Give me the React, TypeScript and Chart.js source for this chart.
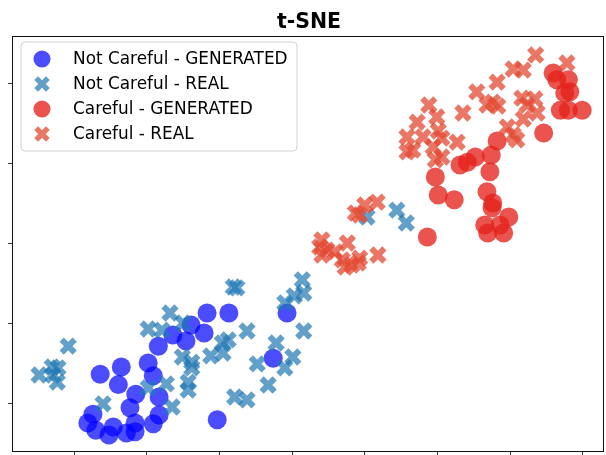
import React, { useEffect, useRef } from "react";
import { Chart, registerables } from "chart.js";

Chart.register(...registerables);

const TITLE = "t-SNE";
const LABELS = [
  "Not Careful - GENERATED",
  "Not Careful - REAL",
  "Careful - GENERATED",
  "Careful - REAL",
];
const COLORS = [
  "rgba(0,0,255,0.7)",
  "rgba(31,119,180,0.7)",
  "rgba(228,35,28,0.78)",
  "rgba(227,74,51,0.75)",
];
const SHAPES = ["circle", "crossRot", "circle", "crossRot"];

const X_TICKS = [0, 10, 20, 30, 40, 50, 60, 70];
const Y_TICKS = [0, 10, 20, 30, 40];
const X_RANGE = [-8.53, 72.9];
const Y_RANGE = [-6.125, 45.875];

const notCarefulGenerated: [number, number][] = [
  [3.6, 3.6], [6.5, 4.5], [6.1, 2.3], [10.2, 5.0], [10.9, 3.4], [11.6, 7.1],
  [8.5, 1.1], [7.7, -0.6], [11.7, 0.75], [11.7, -1.5], [10.9, -2.6], [8.4, -2.5],
  [8.4, -3.6], [7.2, -3.75], [5.4, -3.0], [4.8, -4.0], [3.0, -3.4], [1.9, -2.5],
  [2.6, -1.4], [13.6, 8.5], [15.4, 7.75], [16.1, 9.75], [17.9, 8.75], [18.3, 11.25],
  [21.3, 11.25], [27.4, 5.6], [29.3, 11.25], [19.7, -2.1],
];

const notCarefulReal: [number, number][] = [
  [-4.8, 3.5], [-3.0, 4.5], [-2.2, 4.4], [-2.3, 2.6], [-2.9, 3.5], [-0.8, 7.1],
  [4.0, -0.1], [10.2, 9.25], [12.1, 9.1], [13.2, 11.25], [15.0, 10.0], [14.9, 5.75],
  [16.2, 5.1], [16.2, 4.4], [15.7, 2.6], [15.7, 1.6], [12.7, 2.4], [10.2, 1.9],
  [13.5, -0.5], [18.8, 5.9], [20.5, 6.25], [21.2, 7.9], [23.8, 9.0], [21.9, 14.5],
  [22.4, 14.4], [25.2, 4.9], [26.7, 2.25], [22.1, 0.75], [23.8, 0.4], [27.8, 7.5],
  [30.1, 5.75], [29.0, 4.4], [29.0, 12.5], [30.3, 13.4], [31.4, 15.4], [31.6, 13.75],
  [31.6, 9.0], [20.4, 7.5], [44.4, 24.1], [45.7, 22.5], [40.3, 23.25],
];

const carefulGenerated: [number, number][] = [
  [65.9, 41.25], [66.4, 40.4], [68.0, 40.4], [67.5, 38.75], [68.2, 38.9], [66.9, 36.6],
  [68.0, 36.6], [69.9, 36.6], [64.6, 33.75], [58.2, 32.75], [57.4, 31.0], [57.2, 28.9],
  [55.2, 30.75], [54.1, 30.1], [53.1, 29.75], [49.7, 28.25], [50.1, 26.0], [52.3, 25.4],
  [56.8, 26.4], [57.6, 25.0], [57.5, 24.4], [59.8, 23.25], [56.5, 22.25], [56.9, 21.25],
  [58.6, 22.25], [59.1, 21.25], [48.6, 20.75],
];

const carefulReal: [number, number][] = [
  [34.1, 20.4], [33.8, 19.5], [34.8, 19.1], [34.1, 18.5], [37.6, 20.0], [35.9, 18.9],
  [36.9, 17.9], [37.3, 17.0], [38.2, 17.25], [39.3, 18.1], [39.1, 17.5], [41.8, 18.5],
  [38.7, 23.75], [40.0, 24.75], [41.7, 25.1], [39.3, 23.5],
  [63.5, 43.5], [67.8, 42.5], [60.4, 41.75], [61.8, 41.6], [58.2, 40.1], [55.4, 38.9],
  [48.8, 37.25], [53.5, 36.25], [56.8, 37.25], [58.3, 37.1], [57.6, 37.6], [61.6, 38.1],
  [63.4, 38.0], [62.3, 37.25], [63.7, 36.25], [61.8, 35.5], [49.9, 35.75], [47.2, 35.1],
  [45.8, 33.25], [48.0, 33.25], [50.1, 34.0], [50.6, 33.1], [52.7, 32.6], [59.6, 34.5],
  [60.4, 33.5], [60.9, 32.9], [46.6, 31.6], [49.4, 32.0], [50.6, 30.75], [49.7, 30.4],
  [45.8, 31.4],
];

const SERIES = [notCarefulGenerated, notCarefulReal, carefulGenerated, carefulReal];

const CIRCLE_R = 9.5;
const CROSS_R = 9.2;
const CROSS_W = 6;

function drawMarker(ctx: CanvasRenderingContext2D, shape: string, color: string, x: number, y: number, scale = 1) {
  ctx.save();
  if (shape === "circle") {
    ctx.fillStyle = color;
    ctx.beginPath();
    ctx.arc(x, y, CIRCLE_R * scale, 0, Math.PI * 2);
    ctx.fill();
  } else {
    const o = Math.SQRT1_2 * CROSS_R * scale;
    ctx.strokeStyle = color;
    ctx.lineWidth = CROSS_W * scale;
    ctx.lineCap = "butt";
    ctx.beginPath();
    ctx.moveTo(x - o, y - o);
    ctx.lineTo(x + o, y + o);
    ctx.moveTo(x + o, y - o);
    ctx.lineTo(x - o, y + o);
    ctx.stroke();
  }
  ctx.restore();
}

const decorPlugin = {
  id: "decor",
  afterDatasetsDraw(chart: any) {
    const { ctx, chartArea } = chart;
    ctx.save();
    ctx.strokeStyle = "#111";
    ctx.lineWidth = 1;
    ctx.strokeRect(
      chartArea.left + 0.5,
      chartArea.top + 0.5,
      chartArea.right - chartArea.left - 1,
      chartArea.bottom - chartArea.top - 1
    );
    ctx.restore();
  },
  afterDraw(chart: any) {
    const { ctx, chartArea } = chart;
    ctx.save();
    // title
    ctx.fillStyle = "#000";
    ctx.font = 'bold 20.5px "DejaVu Sans"';
    ctx.textAlign = "center";
    ctx.textBaseline = "alphabetic";
    ctx.fillText(TITLE, (chartArea.left + chartArea.right) / 2 + 1, 28);

    // legend
    const bx = chartArea.left + 9;
    const by = chartArea.top + 6;
    const bw = 276;
    const bh = 109;
    const r = 4;
    ctx.beginPath();
    ctx.moveTo(bx + r, by);
    ctx.lineTo(bx + bw - r, by);
    ctx.quadraticCurveTo(bx + bw, by, bx + bw, by + r);
    ctx.lineTo(bx + bw, by + bh - r);
    ctx.quadraticCurveTo(bx + bw, by + bh, bx + bw - r, by + bh);
    ctx.lineTo(bx + r, by + bh);
    ctx.quadraticCurveTo(bx, by + bh, bx, by + bh - r);
    ctx.lineTo(bx, by + r);
    ctx.quadraticCurveTo(bx, by, bx + r, by);
    ctx.closePath();
    ctx.fillStyle = "rgba(255,255,255,0.8)";
    ctx.fill();
    ctx.strokeStyle = "#d0d0d0";
    ctx.lineWidth = 1;
    ctx.stroke();

    ctx.font = '16.9px "DejaVu Sans"';
    ctx.textAlign = "left";
    ctx.textBaseline = "middle";
    LABELS.forEach((label, i) => {
      const yy = by + 17 + i * 25;
      drawMarker(ctx, SHAPES[i], COLORS[i], bx + 21, yy, 0.9);
      ctx.fillStyle = "#000";
      ctx.fillText(label, bx + 52, yy + 1);
    });
    ctx.restore();
  },
};

export default function App() {
  const canvasRef = useRef<HTMLCanvasElement | null>(null);

  useEffect(() => {
    if (!canvasRef.current) return;
    const datasets = SERIES.map((pts, i) => ({
      label: LABELS[i],
      data: pts.map(([x, y]) => ({ x, y })),
      pointStyle: SHAPES[i] as any,
      pointRadius: SHAPES[i] === "circle" ? CIRCLE_R : CROSS_R,
      pointHoverRadius: SHAPES[i] === "circle" ? CIRCLE_R : CROSS_R,
      backgroundColor: COLORS[i],
      borderColor: COLORS[i],
      borderWidth: SHAPES[i] === "circle" ? 0 : CROSS_W,
      order: 3 - i,
    }));

    const chart = new Chart(canvasRef.current, {
      type: "scatter",
      data: { datasets },
      plugins: [decorPlugin],
      options: {
        animation: false,
        responsive: true,
        maintainAspectRatio: false,
        layout: { autoPadding: false, padding: { top: 36, right: 2, left: 0, bottom: 0 } },
        plugins: {
          legend: { display: false },
          title: { display: false },
          tooltip: { enabled: false },
        },
        scales: {
          x: {
            type: "linear",
            min: X_RANGE[0],
            max: X_RANGE[1],
            afterBuildTicks: (s: any) => {
              s.ticks = X_TICKS.map((v) => ({ value: v }));
            },
            afterFit: (s: any) => {
              s.height = 3;
            },
            ticks: { display: false, includeBounds: false },
            grid: {
              display: true,
              drawOnChartArea: false,
              drawTicks: true,
              tickLength: 4,
              color: "#333",
              lineWidth: 1,
            },
            border: { display: false },
          },
          y: {
            type: "linear",
            min: Y_RANGE[0],
            max: Y_RANGE[1],
            afterBuildTicks: (s: any) => {
              s.ticks = Y_TICKS.map((v) => ({ value: v }));
            },
            afterFit: (s: any) => {
              s.width = 12;
            },
            ticks: { display: false, includeBounds: false },
            grid: {
              display: true,
              drawOnChartArea: false,
              drawTicks: true,
              tickLength: 4,
              color: "#333",
              lineWidth: 1,
            },
            border: { display: false },
          },
        },
      },
    });
    return () => chart.destroy();
  }, []);

  return (
    <div style={{ position: "fixed", left: 0, top: 0, width: 606, height: 455, background: "#fff" }}>
      <canvas ref={canvasRef} />
    </div>
  );
}
